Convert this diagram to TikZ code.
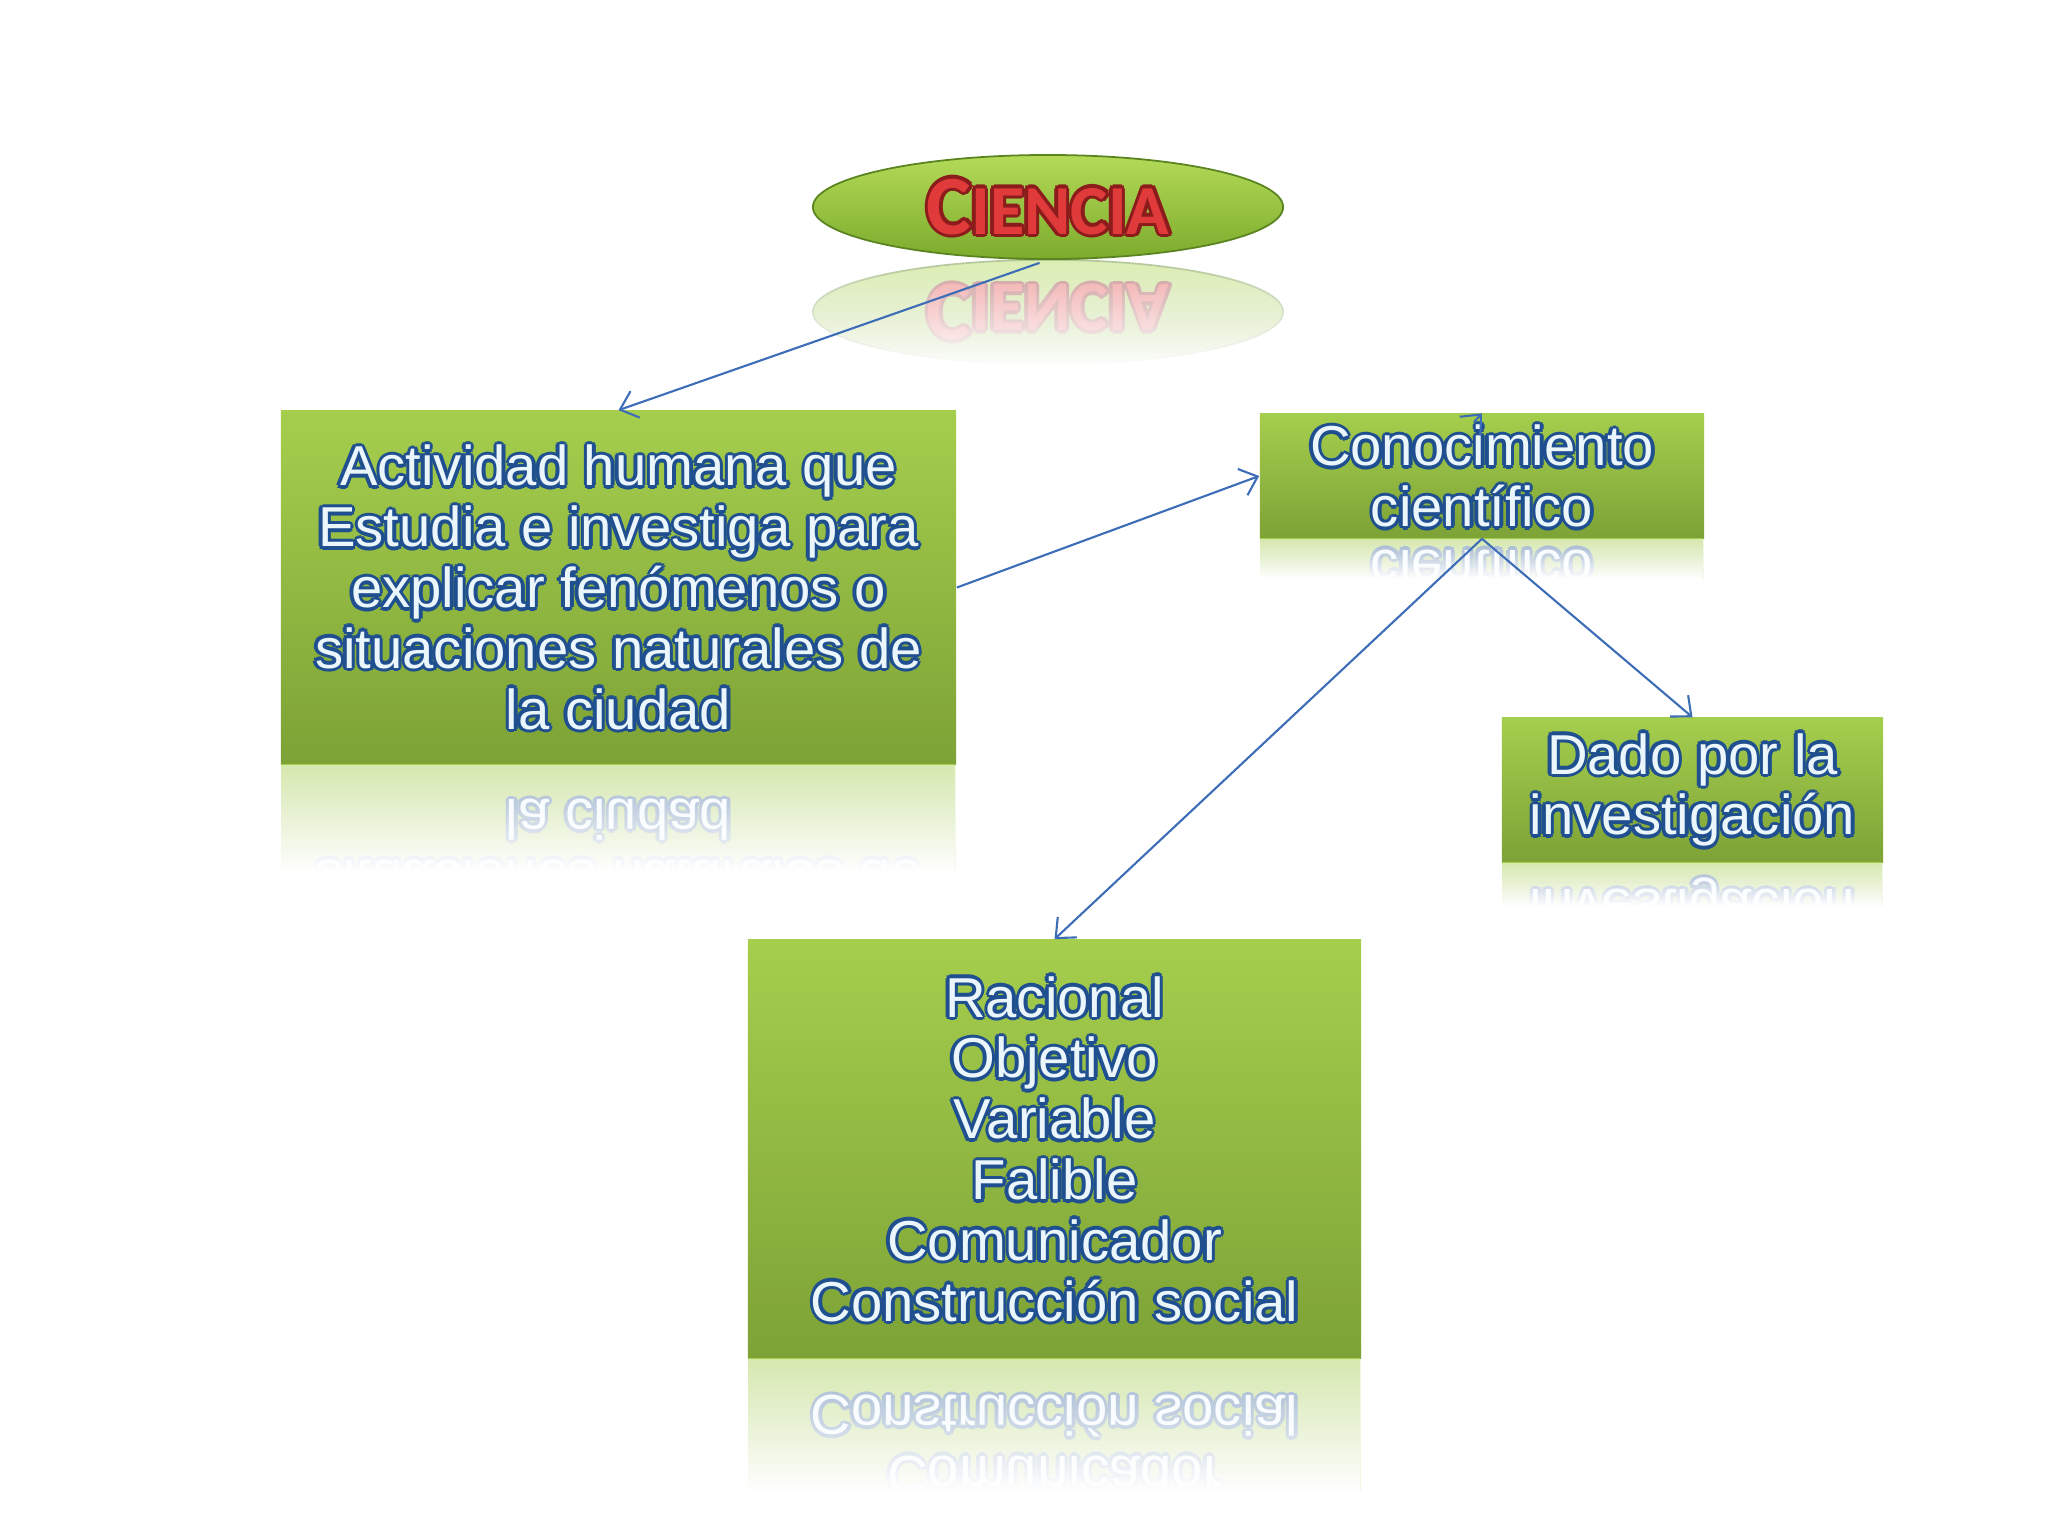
\documentclass[tikz,border=0pt]{standalone}
\usepackage{fontspec}
\setmainfont{Liberation Sans}
\newfontfamily\titlefont{Carlito}
\usepackage{xcolor}
\usetikzlibrary{arrows.meta,calc,positioning,shapes.geometric,fadings}
\definecolor{boxtop}{HTML}{A5CE4D}
\definecolor{boxbot}{HTML}{7DA236}
\definecolor{ovaltop}{HTML}{B4DA58}
\definecolor{ovalbot}{HTML}{7CAB2C}
\definecolor{ovaledge}{HTML}{5A8420}
\definecolor{txtedge}{HTML}{1F4F8F}
\definecolor{txtfill}{HTML}{EAF6FC}
\definecolor{redfill}{HTML}{E03A3A}
\definecolor{rededge}{HTML}{8C1C1C}
\definecolor{arrowblue}{HTML}{3E6DB8}
\tikzfading[name=reflfade, top color=transparent!45, bottom color=transparent!0]
% outlined lettering: eight dark copies under a pale one
\newcommand\ecopy[2]{\rlap{\kern#1\raisebox{#2}{\copy0}}}
\newcommand\edged[3]{\setbox0=\hbox{#3}{\color{#1}\ecopy{1pt}{0pt}\ecopy{-1pt}{0pt}\ecopy{0pt}{1pt}\ecopy{0pt}{-1pt}%
  \ecopy{.7pt}{.7pt}\ecopy{-.7pt}{.7pt}\ecopy{.7pt}{-.7pt}\ecopy{-.7pt}{-.7pt}}\textcolor{#2}{\copy0}}
\newcommand\lbl[1]{\edged{txtedge}{txtfill}{#1}}
\newcommand\txtttl{\edged{rededge}{redfill}{\titlefont\bfseries\fontsize{24}{26}\selectfont C\fontsize{20}{22}\selectfont IENCIA}}
\newcommand\txtact{\lbl{Actividad humana que}\\\lbl{Estudia e investiga para}\\\lbl{explicar fenómenos o}\\\lbl{situaciones naturales de}\\\lbl{la ciudad}}
\newcommand\txtcon{\lbl{Conocimiento}\\\lbl{científico}}
\newcommand\txtdado{\lbl{Dado por la}\\\lbl{investigación}}
\newcommand\txtrasgos{\lbl{Racional}\\\lbl{Objetivo}\\\lbl{Variable}\\\lbl{Falible}\\\lbl{Comunicador}\\\lbl{Construcción social}}
\begin{document}
\begin{tikzpicture}[x=0.01cm, y=-0.01cm,
  concept/.style={rectangle, top color=boxtop, bottom color=boxbot, inner sep=0pt, align=center, font=\fontsize{16}{17.3}\selectfont},
  oval/.style={ellipse, top color=ovaltop, bottom color=ovalbot, draw=ovaledge, line width=0.5pt, minimum width=4.7cm, minimum height=1.04cm, inner sep=0pt},
  link/.style={draw=arrowblue, line width=0.6pt, -{Straight Barb[length=1.6mm,width=2.8mm]}},
  mirror/.style={fill=white, path fading=reflfade}]
  \useasboundingbox (0,0) rectangle (2048,1536);
  % main shapes
  \node[oval] (ciencia) at (1048,207) {\txtttl};
  \node[concept, minimum width=6.75cm, minimum height=3.53cm] (act) at (618.5,587.5) {\txtact};
  \node[concept, minimum width=4.44cm, minimum height=1.24cm] (con) at (1482,476) {\txtcon};
  \node[concept, minimum width=3.81cm, minimum height=1.44cm] (dado) at (1692.5,790) {\txtdado};
  \node[concept, minimum width=6.13cm, minimum height=4.18cm] (rasgos) at (1054.5,1149) {\txtrasgos};
  % reflections
  \begin{scope}
    \clip ($(ciencia.south)+(-240,0)$) rectangle ++(480,108);
    \begin{scope}[shift={($(ciencia.south)+(0,52)$)}, yscale=-1]
      \node[oval, transform shape] at (0,0) {\txtttl};
    \end{scope}
    \fill[mirror] ($(ciencia.south)+(-240,0)$) rectangle ++(480,108);
  \end{scope}
  \foreach \n/\w/\h/\r/\t in {act/675/353/106/\txtact, con/444/124/40/\txtcon, dado/381/144/43/\txtdado, rasgos/613/418/132/\txtrasgos}{
    \begin{scope}
      \clip (\n.south west) rectangle ++(\w,\r);
      \begin{scope}[shift={($(\n.south)+(0,\h/2)$)}, yscale=-1]
        \node[concept, transform shape, minimum width=\w*0.01cm, minimum height=\h*0.01cm] at (0,0) {\t};
      \end{scope}
      \fill[mirror] (\n.south west) rectangle ++(\w,\r);
    \end{scope}
  }
  % connectors
  \coordinate (stub) at (1474,422);
  \draw[link, shorten <=0.9mm] (ciencia.south) -- (act.north);
  \draw[link] (act.east) -- (con.west);
  \draw[link] (con.south) -- (dado.north);
  \draw[link] (con.south) -- (rasgos.north);
  \draw[link] (stub) -- (con.north);
\end{tikzpicture}
\end{document}
